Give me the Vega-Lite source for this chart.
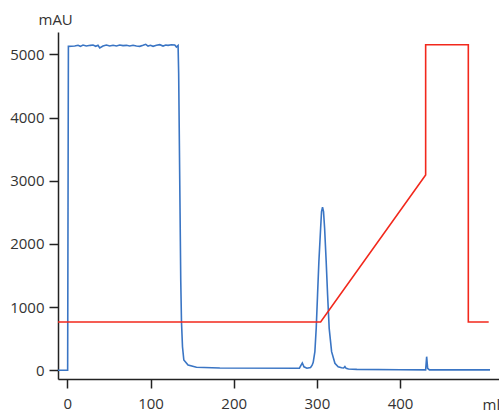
{
  "$schema": "https://vega.github.io/schema/vega-lite/v6.json",
  "autosize": "none",
  "width": 441,
  "height": 347,
  "padding": {"left": 58, "top": 32, "right": 0, "bottom": 31},
  "background": "white",
  "config": {
    "view": {"stroke": null},
    "font": "Open Sans",
    "axis": {
      "grid": false,
      "domainColor": "#222222",
      "domainWidth": 1.5,
      "tickColor": "#222222",
      "tickWidth": 1.5,
      "tickSize": 9,
      "labelColor": "#333333",
      "labelFont": "Open Sans",
      "labelFontSize": 15,
      "titleColor": "#333333",
      "titleFont": "Open Sans",
      "titleFontSize": 15,
      "titleFontWeight": "normal"
    }
  },
  "datasets": {
    "uv": [
      {"i": 0, "ml": -11.3, "mAU": 0},
      {"i": 1, "ml": 0.3, "mAU": 0},
      {"i": 2, "ml": 1.2, "mAU": 5126},
      {"i": 3, "ml": 8.8, "mAU": 5131},
      {"i": 4, "ml": 12.8, "mAU": 5142},
      {"i": 5, "ml": 15.6, "mAU": 5126},
      {"i": 6, "ml": 18.8, "mAU": 5147},
      {"i": 7, "ml": 22.8, "mAU": 5131},
      {"i": 8, "ml": 27.7, "mAU": 5142},
      {"i": 9, "ml": 30.8, "mAU": 5147},
      {"i": 10, "ml": 34.1, "mAU": 5126},
      {"i": 11, "ml": 36.8, "mAU": 5142},
      {"i": 12, "ml": 38.9, "mAU": 5100},
      {"i": 13, "ml": 42.8, "mAU": 5131},
      {"i": 14, "ml": 46.9, "mAU": 5147},
      {"i": 15, "ml": 50.9, "mAU": 5131},
      {"i": 16, "ml": 54.9, "mAU": 5142},
      {"i": 17, "ml": 59.0, "mAU": 5131},
      {"i": 18, "ml": 62.9, "mAU": 5147},
      {"i": 19, "ml": 66.9, "mAU": 5137},
      {"i": 20, "ml": 71.0, "mAU": 5142},
      {"i": 21, "ml": 75.0, "mAU": 5131},
      {"i": 22, "ml": 78.9, "mAU": 5142},
      {"i": 23, "ml": 83.0, "mAU": 5131},
      {"i": 24, "ml": 87.0, "mAU": 5126},
      {"i": 25, "ml": 91.0, "mAU": 5142},
      {"i": 26, "ml": 94.2, "mAU": 5158},
      {"i": 27, "ml": 97.0, "mAU": 5131},
      {"i": 28, "ml": 99.9, "mAU": 5142},
      {"i": 29, "ml": 103.0, "mAU": 5126},
      {"i": 30, "ml": 107.1, "mAU": 5142},
      {"i": 31, "ml": 111.1, "mAU": 5152},
      {"i": 32, "ml": 115.0, "mAU": 5131},
      {"i": 33, "ml": 118.3, "mAU": 5147},
      {"i": 34, "ml": 121.0, "mAU": 5142},
      {"i": 35, "ml": 125.1, "mAU": 5152},
      {"i": 36, "ml": 129.1, "mAU": 5147},
      {"i": 37, "ml": 131.1, "mAU": 5116},
      {"i": 38, "ml": 132.3, "mAU": 5131},
      {"i": 39, "ml": 133.1, "mAU": 5140},
      {"i": 40, "ml": 133.8, "mAU": 4700},
      {"i": 41, "ml": 136.3, "mAU": 1429},
      {"i": 42, "ml": 137.2, "mAU": 764},
      {"i": 43, "ml": 138.4, "mAU": 373},
      {"i": 44, "ml": 140.0, "mAU": 163},
      {"i": 45, "ml": 145.1, "mAU": 84},
      {"i": 46, "ml": 155.2, "mAU": 47},
      {"i": 47, "ml": 183.3, "mAU": 36},
      {"i": 48, "ml": 279.0, "mAU": 32},
      {"i": 49, "ml": 281.0, "mAU": 80},
      {"i": 50, "ml": 282.5, "mAU": 115},
      {"i": 51, "ml": 284.5, "mAU": 55},
      {"i": 52, "ml": 288.0, "mAU": 32},
      {"i": 53, "ml": 292.4, "mAU": 45},
      {"i": 54, "ml": 294.3, "mAU": 80},
      {"i": 55, "ml": 295.6, "mAU": 125},
      {"i": 56, "ml": 297.6, "mAU": 294},
      {"i": 57, "ml": 299.2, "mAU": 664},
      {"i": 58, "ml": 300.8, "mAU": 1191},
      {"i": 59, "ml": 302.4, "mAU": 1718},
      {"i": 60, "ml": 304.5, "mAU": 2247},
      {"i": 61, "ml": 305.6, "mAU": 2510},
      {"i": 62, "ml": 306.8, "mAU": 2580},
      {"i": 63, "ml": 308.0, "mAU": 2510},
      {"i": 64, "ml": 309.3, "mAU": 2247},
      {"i": 65, "ml": 311.2, "mAU": 1718},
      {"i": 66, "ml": 312.9, "mAU": 1191},
      {"i": 67, "ml": 314.8, "mAU": 664},
      {"i": 68, "ml": 317.7, "mAU": 294},
      {"i": 69, "ml": 321.7, "mAU": 111},
      {"i": 70, "ml": 325.6, "mAU": 57},
      {"i": 71, "ml": 329.7, "mAU": 40},
      {"i": 72, "ml": 332.2, "mAU": 36},
      {"i": 73, "ml": 333.7, "mAU": 58},
      {"i": 74, "ml": 335.2, "mAU": 30},
      {"i": 75, "ml": 338.0, "mAU": 20},
      {"i": 76, "ml": 348.0, "mAU": 14},
      {"i": 77, "ml": 400.0, "mAU": 8},
      {"i": 78, "ml": 430.8, "mAU": 6},
      {"i": 79, "ml": 432.0, "mAU": 215},
      {"i": 80, "ml": 433.2, "mAU": 30},
      {"i": 81, "ml": 435.3, "mAU": 6},
      {"i": 82, "ml": 508.2, "mAU": 6}
    ],
    "gradient": [
      {"i": 0, "ml": -11.3, "mAU": 764},
      {"i": 1, "ml": 304.5, "mAU": 764},
      {"i": 2, "ml": 430.8, "mAU": 3090},
      {"i": 3, "ml": 430.8, "mAU": 5152},
      {"i": 4, "ml": 482.1, "mAU": 5152},
      {"i": 5, "ml": 482.1, "mAU": 764},
      {"i": 6, "ml": 506.6, "mAU": 764}
    ]
  },
  "layer": [
    {
      "data": {"name": "uv"},
      "mark": {"type": "line", "color": "#3a75c4", "strokeWidth": 1.6, "clip": true},
      "encoding": {
        "x": {
          "field": "ml", "type": "quantitative",
          "scale": {"domain": [-11.3, 519], "nice": false, "zero": false},
          "axis": {
            "values": [0, 100, 200, 300, 400],
            "format": "d",
            "labelPadding": 8,
            "title": "ml",
            "titleAnchor": "start",
            "titleAlign": "left",
            "titleBaseline": "alphabetic",
            "titleX": 424,
            "titleY": 30
          }
        },
        "y": {
          "field": "mAU", "type": "quantitative",
          "scale": {"domain": [-138, 5353], "nice": false, "zero": false},
          "axis": {
            "values": [0, 1000, 2000, 3000, 4000, 5000],
            "format": "d",
            "labelPadding": 5,
            "title": "mAU",
            "titleAngle": 0,
            "titleAlign": "left",
            "titleBaseline": "alphabetic",
            "titleX": -20,
            "titleY": -8
          }
        },
        "order": {"field": "i", "type": "quantitative"}
      }
    },
    {
      "data": {"name": "gradient"},
      "mark": {"type": "line", "color": "#f2281c", "strokeWidth": 1.6, "clip": true},
      "encoding": {
        "x": {"field": "ml", "type": "quantitative"},
        "y": {"field": "mAU", "type": "quantitative"},
        "order": {"field": "i", "type": "quantitative"}
      }
    }
  ]
}
